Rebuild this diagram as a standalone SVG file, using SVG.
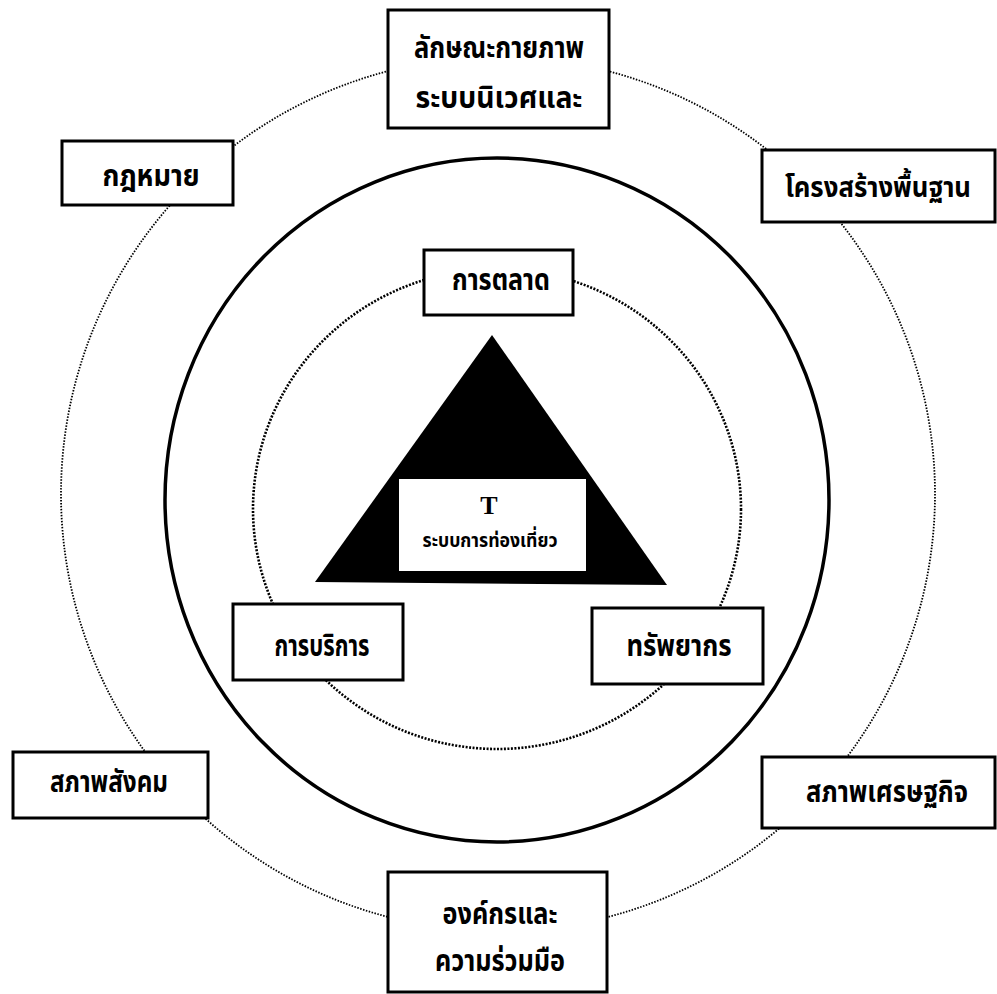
<svg xmlns="http://www.w3.org/2000/svg" width="997" height="994" viewBox="0 0 997 994">
<style>
.box{fill:#fff;stroke:#000;stroke-width:3}
.lbl{font-family:"Noto Sans Thai","Noto Sans","DejaVu Sans",sans-serif;font-weight:bold;font-size:30px;fill:#000;text-anchor:middle}
.dotO{fill:none;stroke:#000;stroke-width:1.8;stroke-dasharray:1.5 1.5}
.dotI{fill:none;stroke:#000;stroke-width:2.6;stroke-dasharray:2 1.5}
.solid{fill:none;stroke:#000;stroke-width:3.5}
</style>
<rect width="997" height="994" fill="#fff"/>
<g id="connectors">
<circle class="dotO" cx="498" cy="494" r="437"/>
<ellipse class="solid" cx="497" cy="500" rx="332" ry="342"/>
<ellipse class="dotI" cx="497" cy="509" rx="244" ry="240"/>
</g>
<g id="node-physical">
<rect class="box" x="388" y="10" width="221" height="118"/>
<text class="lbl" x="499" y="58" textLength="170" lengthAdjust="spacingAndGlyphs">ลักษณะกายภาพ</text>
<text class="lbl" x="499" y="108" textLength="167" lengthAdjust="spacingAndGlyphs">ระบบนิเวศและ</text>
</g>
<g id="node-law">
<rect class="box" x="62" y="141" width="171" height="64"/>
<text class="lbl" x="151" y="186" textLength="97" lengthAdjust="spacingAndGlyphs">กฎหมาย</text>
</g>
<g id="node-infrastructure">
<rect class="box" x="762" y="150" width="233" height="72"/>
<text class="lbl" x="878" y="197" style="font-size:28px" textLength="186" lengthAdjust="spacingAndGlyphs">โครงสร้างพื้นฐาน</text>
</g>
<g id="node-marketing">
<rect class="box" x="424" y="250" width="149" height="65"/>
<text class="lbl" x="501" y="290" textLength="98" lengthAdjust="spacingAndGlyphs">การตลาด</text>
</g>
<g id="node-tourism">
<polygon points="492,335 315,582 667,585" fill="#000"/>
<rect x="399" y="479" width="187" height="92" fill="#fff"/>
<text x="489" y="514" font-family="Liberation Serif" font-weight="bold" font-size="26" text-anchor="middle">T</text>
<text class="lbl" x="490" y="547" style="font-size:20px" textLength="135" lengthAdjust="spacingAndGlyphs">ระบบการท่องเที่ยว</text>
</g>
<g id="node-service">
<rect class="box" x="233" y="604" width="170" height="76"/>
<text class="lbl" x="322" y="656" textLength="95" lengthAdjust="spacingAndGlyphs">การบริการ</text>
</g>
<g id="node-resources">
<rect class="box" x="592" y="608" width="171" height="76"/>
<text class="lbl" x="679" y="656" textLength="105" lengthAdjust="spacingAndGlyphs">ทรัพยากร</text>
</g>
<g id="node-social">
<rect class="box" x="13" y="752" width="195" height="66"/>
<text class="lbl" x="109" y="792" textLength="118" lengthAdjust="spacingAndGlyphs">สภาพสังคม</text>
</g>
<g id="node-economic">
<rect class="box" x="762" y="757" width="233" height="71"/>
<text class="lbl" x="887" y="802" textLength="162" lengthAdjust="spacingAndGlyphs">สภาพเศรษฐกิจ</text>
</g>
<g id="node-organization">
<rect class="box" x="388" y="872" width="219" height="120"/>
<text class="lbl" x="500" y="924" textLength="115" lengthAdjust="spacingAndGlyphs">องค์กรและ</text>
<text class="lbl" x="500" y="971" textLength="130" lengthAdjust="spacingAndGlyphs">ความร่วมมือ</text>
</g>
</svg>
